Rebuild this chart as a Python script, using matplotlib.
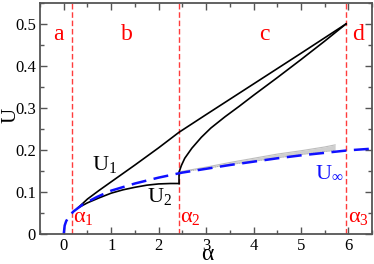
import matplotlib
matplotlib.use("Agg")
import matplotlib.pyplot as plt
from matplotlib.ticker import MultipleLocator

# critical alphas (red dashed lines)
alpha_crit = [0.18, 2.43, 5.95]

# U_infinity (blue dashed)
uinf_alpha = [0, 0.02, 0.05, 0.1, 0.2, 0.4, 0.7, 1.0, 1.5, 2.0, 2.5,
              3.0, 3.5, 4.0, 4.5, 5.0, 5.5, 6.0, 6.5]
uinf = [0, 0.02, 0.03, 0.04, 0.053, 0.07, 0.088, 0.103, 0.12, 0.134, 0.146,
        0.155, 0.164, 0.172, 0.18, 0.187, 0.193, 0.199, 0.203]

# U1 branch (upper black line)
u1_alpha = [0.3, 0.5, 0.75, 1.0, 1.5, 2.0, 2.43, 3.0, 4.0, 5.0, 5.95]
u1 = [0.062, 0.083, 0.104, 0.124, 0.164, 0.205, 0.242, 0.284, 0.357, 0.43, 0.5]

# U2 branch (lower black line, region b)
u2_alpha = [0.3, 0.5, 0.75, 1.0, 1.25, 1.5, 1.75, 2.0, 2.25, 2.43]
u2 = [0.062, 0.074, 0.086, 0.097, 0.105, 0.111, 0.116, 0.119, 0.12, 0.12]

# branch after the jump at alpha_2
u3_alpha = [2.43, 2.43, 2.48, 2.55, 2.7, 2.9, 3.1, 3.4, 3.7, 4.0, 4.5,
            5.0, 5.5, 5.95]
u3 = [0.12, 0.147, 0.163, 0.18, 0.204, 0.23, 0.252, 0.279, 0.304, 0.33,
      0.372, 0.415, 0.459, 0.5]

# grey fan of curves above U_infinity
grey_alpha = [2.45, 3.0, 3.5, 4.0, 4.5, 5.0, 5.5, 5.72]
grey_low = [0.147, 0.156, 0.165, 0.173, 0.181, 0.189, 0.196, 0.199]
grey_high = [0.148, 0.159, 0.17, 0.18, 0.19, 0.198, 0.207, 0.212]

region_labels = ['a', 'b', 'c', 'd']
region_x = [-0.11, 1.33, 4.23, 6.2]


def main():
    plt.rcParams['font.family'] = ['Liberation Serif', 'DejaVu Serif']
    plt.rcParams['mathtext.fontset'] = 'custom'
    plt.rcParams['mathtext.rm'] = 'Liberation Serif'

    fig = plt.figure(figsize=(3.74, 2.64), dpi=100)
    ax = fig.add_axes([0.107, 0.114, 0.888, 0.875])

    for a in alpha_crit:
        ax.axvline(a, color='#ff3c3c', lw=1.0, dashes=(4, 2))

    ax.fill_between(grey_alpha, grey_low, grey_high, color='#cfcfcf', lw=0)
    ax.plot(grey_alpha, grey_high, color='#bdbdbd', lw=0.8)
    ax.plot(grey_alpha, grey_low, color='#a8a8a8', lw=0.6, ls=':')

    ax.plot(u1_alpha, u1, color='black', lw=1.2)
    ax.plot(u2_alpha, u2, color='black', lw=1.2)
    ax.plot(u3_alpha, u3, color='black', lw=1.2)
    ax.plot(uinf_alpha, uinf, color='#1010ff', lw=1.8, dashes=(6, 3))

    for lab, x in zip(region_labels, region_x):
        ax.text(x, 0.462, lab, color='red', fontsize=17, ha='center')

    ax.text(0.6, 0.151, r'U$_\mathrm{1}$', fontsize=16)
    ax.text(1.76, 0.074, r'U$_\mathrm{2}$', fontsize=16)
    ax.text(5.29, 0.134, r'U$_\infty$', fontsize=16, color='#1010ff')
    ax.text(0.2, 0.028, r'α$_\mathrm{1}$', fontsize=16, color='red')
    ax.text(2.46, 0.028, r'α$_\mathrm{2}$', fontsize=16, color='red')
    ax.text(6.0, 0.028, r'α$_\mathrm{3}$', fontsize=16, color='red')

    ax.set_xlim(-0.5, 6.5)
    ax.set_ylim(0, 0.55)
    ax.xaxis.set_major_locator(MultipleLocator(1))
    ax.xaxis.set_minor_locator(MultipleLocator(0.5))
    ax.yaxis.set_major_locator(MultipleLocator(0.1))
    ax.yaxis.set_minor_locator(MultipleLocator(0.05))
    ax.yaxis.set_major_formatter(
        plt.FuncFormatter(lambda v, _: '0' if v == 0 else f'{v:.1f}'))

    ax.tick_params(which='both', direction='in', top=True, right=True,
                   color='#555555', labelsize=12, pad=3)
    ax.tick_params(which='major', length=5, width=1)
    ax.tick_params(which='minor', length=3, width=1)
    for sp in ax.spines.values():
        sp.set_color('#555555')
        sp.set_linewidth(1.3)

    ax.set_xlabel('α', fontsize=17, va='baseline')
    ax.set_ylabel('U', fontsize=15)
    ax.xaxis.set_label_coords(0.503, -0.115)
    ax.yaxis.set_label_coords(-0.06, 0.515)

    fig.savefig('out.png', dpi=100)


if __name__ == "__main__":
    main()
